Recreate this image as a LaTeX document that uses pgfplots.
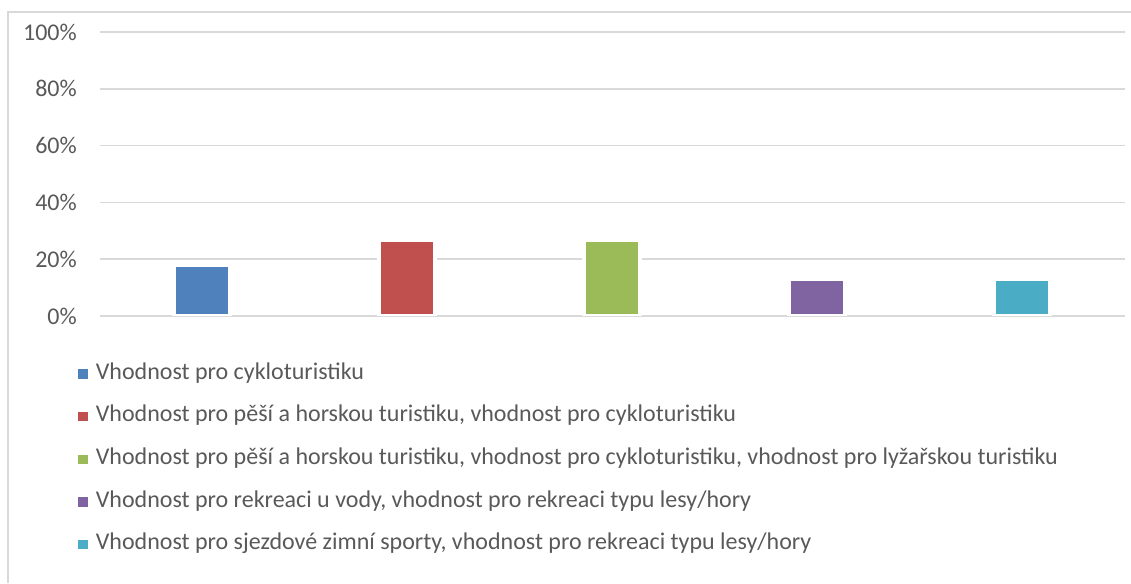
\documentclass[border=0pt]{standalone}
\usepackage{fontspec}
\setmainfont{Carlito}
\usepackage{pgfplots}
\pgfplotsset{compat=1.18}
\definecolor{txt}{HTML}{595959}
\definecolor{grd}{HTML}{D9D9D9}
\definecolor{c1}{HTML}{4F81BD}
\definecolor{c2}{HTML}{C0504D}
\definecolor{c3}{HTML}{9BBB59}
\definecolor{c4}{HTML}{8064A2}
\definecolor{c5}{HTML}{4BACC6}
\pgfplotsset{mybar/.style={ybar, bar width=56pt, bar shift=0pt, draw=white, line width=4pt, fill=#1, forget plot},
  mysq/.style={legend image code/.code={\fill[#1] (0pt,-4.2pt) rectangle (8.4pt,4.2pt);}}}
\begin{document}
\begin{tikzpicture}
\useasboundingbox (0pt,0pt) rectangle (1131pt,583pt);
\draw[grd, line width=1.5pt] (8pt,0pt) -- (8pt,571pt) -- (1131pt,571pt);
\begin{axis}[
  at={(100pt,267pt)}, anchor=south west,
  width=1025pt, height=284pt, scale only axis,
  xmin=-0.5, xmax=4.5, ymin=0, ymax=100,
  axis line style={draw=none},
  major tick length=0pt,
  xtick=\empty,
  ytick={0,20,40,60,80,100},
  yticklabel={\pgfmathprintnumber{\tick}\%},
  /pgf/number format/assume math mode=true,
  y tick label style={font=\fontsize{24}{28}\selectfont, text=txt, anchor=east, inner sep=0pt, xshift=-23pt},
  ymajorgrids,
  grid style={grd, line width=1.5pt},
  legend cell align=left,
  legend style={at={(0,0)}, anchor=north west, xshift=-21.7pt, yshift=-46.3pt,
    draw=none, fill=none, inner sep=0pt, outer sep=0pt,
    row sep=19.6pt, column sep=8.7pt,
    font=\fontsize{24}{28}\selectfont, text=txt,
    nodes={inner sep=0pt, text height=17pt, text depth=6pt}},
]
\addplot[mybar=c1] coordinates {(0,18.0)};
\addplot[mybar=c2] coordinates {(1,26.9)};
\addplot[mybar=c3] coordinates {(2,26.9)};
\addplot[mybar=c4] coordinates {(3,12.9)};
\addplot[mybar=c5] coordinates {(4,12.9)};
\addlegendimage{mysq=c1}
\addlegendentry{Vhodnost pro cykloturistiku}
\addlegendimage{mysq=c2}
\addlegendentry{Vhodnost pro pěší a horskou turistiku, vhodnost pro cykloturistiku}
\addlegendimage{mysq=c3}
\addlegendentry{Vhodnost pro pěší a horskou turistiku, vhodnost pro cykloturistiku, vhodnost pro lyžařskou turistiku}
\addlegendimage{mysq=c4}
\addlegendentry{Vhodnost pro rekreaci u vody, vhodnost pro rekreaci typu lesy/hory}
\addlegendimage{mysq=c5}
\addlegendentry{Vhodnost pro sjezdové zimní sporty, vhodnost pro rekreaci typu lesy/hory}
\end{axis}
\end{tikzpicture}
\end{document}
